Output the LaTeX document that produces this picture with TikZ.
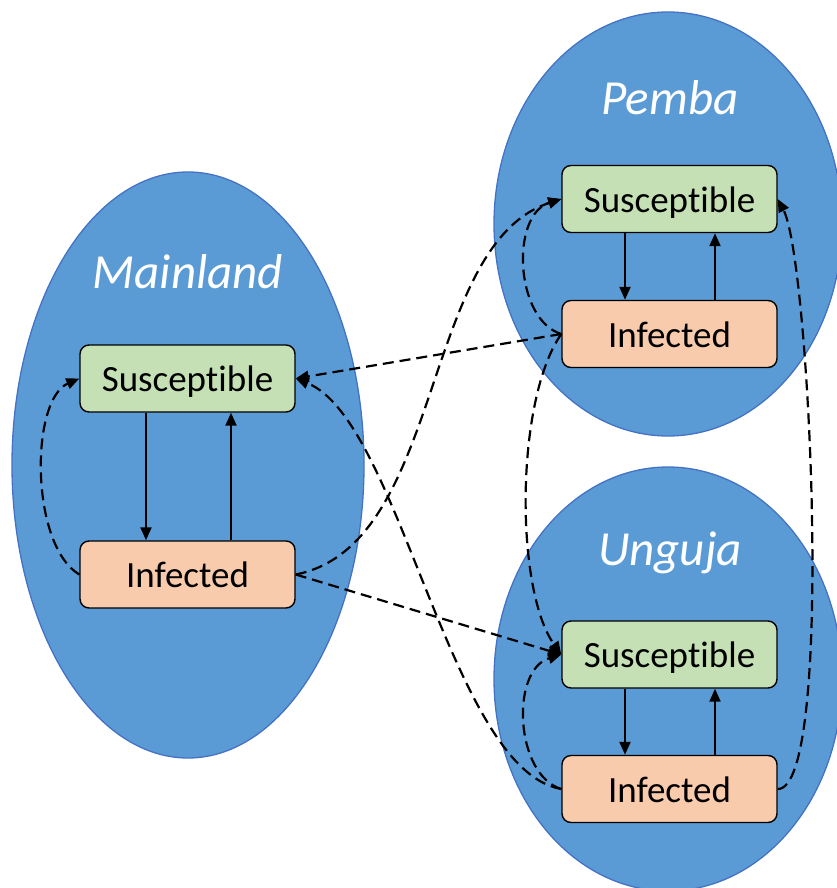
\documentclass[tikz,border=0pt]{standalone}
\usepackage{fontspec}
\setmainfont{Carlito}[Ligatures=NoCommon]
\usetikzlibrary{arrows.meta}
\definecolor{isle}{HTML}{5B9BD5}
\definecolor{isleedge}{HTML}{4472C4}
\definecolor{sus}{HTML}{C5E0B4}
\definecolor{inf}{HTML}{F8CBAD}
\begin{document}
\begin{tikzpicture}[x=1pt,y=-1pt,
  island/.style={fill=isle,draw=isleedge,line width=1.3pt},
  boxbase/.style={draw=black,line width=1.4pt,rounded corners=9pt,minimum width=215pt,minimum height=67pt,inner sep=0pt,text height=30pt,text depth=4pt,font=\fontsize{37}{44}\selectfont},
  sbox/.style={boxbase,fill=sus},
  ibox/.style={boxbase,fill=inf},
  islelabel/.style={text=white,font=\fontsize{49}{58}\selectfont\itshape,inner sep=0pt},
  flow/.style={line width=2.2pt,-{Triangle[length=13pt,width=11pt]}},
  contact/.style={line width=2.2pt,dash pattern=on 11pt off 6pt,-{Triangle[length=13pt,width=11pt]}}
]
\useasboundingbox (0,0) rectangle (837,888);
\clip (0,0) rectangle (837,888);
% islands
\draw[island] (188,465) ellipse [x radius=176, y radius=293];
\draw[island] (668,224) ellipse [x radius=174, y radius=212];
\draw[island] (668,679) ellipse [x radius=174, y radius=212];
\node[islelabel] (lm) at (188,272) {Mainland};
\node[islelabel] (lp) at (670,98) {Pemba};
\node[islelabel] (lu) at (670,553) {Unguja};
% boxes
\node[sbox] (ms) at (187.5,378.5) {Susceptible};
\node[ibox] (mi) at (187.5,574.5) {Infected};
\node[sbox] (ps) at (669.5,199) {Susceptible};
\node[ibox] (pi) at (669.5,334) {Infected};
\node[sbox] (us) at (669.5,654.5) {Susceptible};
\node[ibox] (ui) at (669.5,789) {Infected};
% solid flows
\draw[flow] ([xshift=-41.5pt]ms.south) -- ([xshift=-41.5pt]mi.north);
\draw[flow] ([xshift=43.5pt]mi.north) -- ([xshift=43.5pt]ms.south);
\draw[flow] ([xshift=-44.5pt]ps.south) -- ([xshift=-44.5pt]pi.north);
\draw[flow] ([xshift=45.5pt]pi.north) -- ([xshift=45.5pt]ps.south);
\draw[flow] ([xshift=-44.5pt]us.south) -- ([xshift=-44.5pt]ui.north);
\draw[flow] ([xshift=45.5pt]ui.north) -- ([xshift=45.5pt]us.south);
% dashed contacts
\draw[contact] (mi.west) .. controls (30,545) and (30,400) .. (ms.west);
\draw[contact] (mi.east) .. controls (445,545) and (420,245) .. (ps.west);
\draw[contact] (mi.east) -- (us.west);
\draw[contact] (pi.west) -- (ms.east);
\draw[contact] (ui.west) .. controls (450,770) and (400,420) .. (ms.east);
\draw[contact] (pi.west) .. controls (515,400) and (515,590) .. (us.west);
\draw[contact] (pi.west) .. controls (515,320) and (510,215) .. (ps.west);
\draw[contact] (ui.west) .. controls (515,775) and (510,670) .. (us.west);
\draw[contact] (ui.east) .. controls (835,790) and (810,260) .. (ps.east);
\end{tikzpicture}
\end{document}
